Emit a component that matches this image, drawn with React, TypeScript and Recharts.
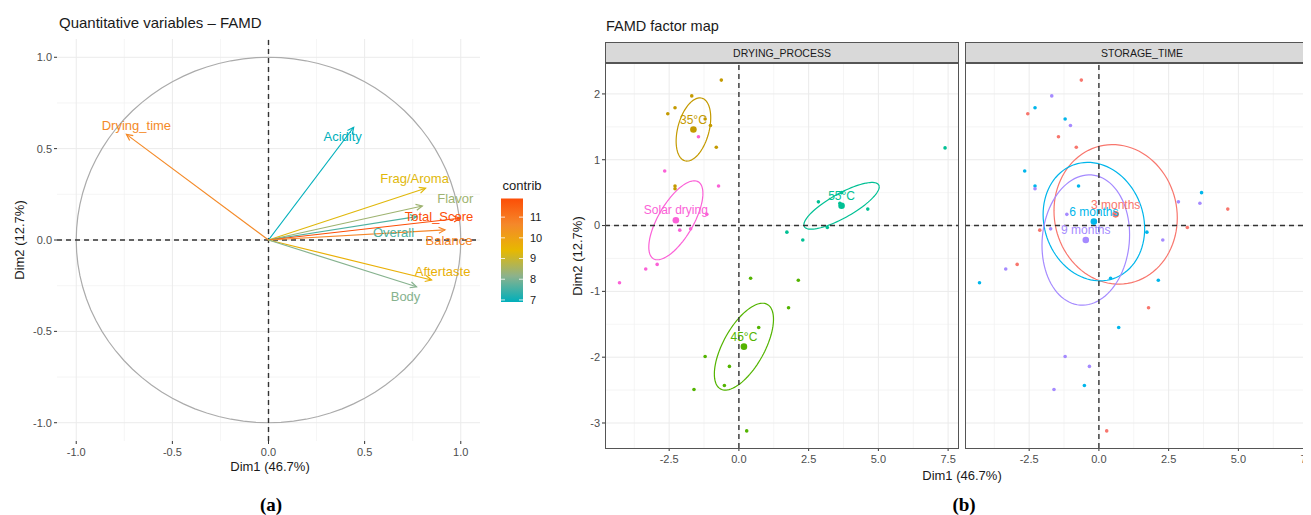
import React from 'react';
import { ScatterChart, Scatter, XAxis, YAxis, CartesianGrid, ReferenceLine, ReferenceArea } from 'recharts';

// ---- (a) quantitative variables, correlation circle ----
const varNames = ['Drying_time', 'Acidity', 'Frag/Aroma', 'Flavor', 'Overall', 'Total_Score', 'Balance', 'Aftertaste', 'Body'];
const varDim1 = [-0.739, 0.443, 0.817, 0.8, 0.77, 0.996, 0.918, 0.848, 0.77];
const varDim2 = [0.578, 0.617, 0.283, 0.186, 0.128, 0.119, 0.055, -0.219, -0.256];
const varContrib = [10.6, 6.9, 9.3, 8.4, 7.6, 11.9, 10.7, 9.6, 8.1];
const circleTicks = [-1, -0.5, 0, 0.5, 1];
const circleMinor = [-0.75, -0.25, 0.25, 0.75];
const contribTicks = [7, 8, 9, 10, 11];

// ---- (b) individuals ----
const indDim1 = [-0.63, -1.69, -2.29, -2.55, -1.21, -1.02, -1.45, -0.81, 7.39, -2.66, -2.29, -2.29, -0.73, 3.68, 2.85, 3.62, 4.62, -1.15, 3.17, -2.12, -1.73, 1.72, 2.29, -2.93, -3.34, 0.42, 2.13, -4.28, 1.78, 0.71, -1.21, -0.34, -0.52, -1.61, 0.28];
const indDim2 = [2.21, 1.97, 1.79, 1.7, 1.62, 1.52, 1.35, 1.19, 1.18, 0.83, 0.6, 0.56, 0.6, 0.5, 0.36, 0.34, 0.25, 0.17, -0.03, -0.07, -0.05, -0.1, -0.22, -0.59, -0.66, -0.8, -0.83, -0.87, -1.25, -1.55, -1.99, -2.14, -2.43, -2.49, -3.12];
const indDrying = ['35°C', '35°C', '35°C', '35°C', '35°C', '35°C', 'Solar drying', '35°C', '55°C', 'Solar drying', '35°C', '35°C', 'Solar drying', '55°C', '55°C', '55°C', '55°C', 'Solar drying', '55°C', 'Solar drying', 'Solar drying', '55°C', '55°C', 'Solar drying', 'Solar drying', '45°C', '45°C', 'Solar drying', '45°C', '45°C', '45°C', '45°C', '45°C', '45°C', '45°C'];
const indStorage = ['3 months', '9 months', '6 months', '3 months', '6 months', '9 months', '3 months', '3 months', '3 months', '6 months', '6 months', '9 months', '6 months', '6 months', '9 months', '9 months', '3 months', '9 months', '3 months', '3 months', '9 months', '6 months', '9 months', '3 months', '9 months', '6 months', '6 months', '6 months', '3 months', '6 months', '9 months', '9 months', '6 months', '9 months', '3 months'];

const dryingLevels = ['35°C', '45°C', '55°C', 'Solar drying'];
const dryingMean1 = [-1.63, 0.18, 3.68, -2.26];
const dryingMean2 = [1.46, -1.84, 0.3, 0.08];
const dryingEllW = [0.62, 1.06, 1.35, 0.97];
const dryingEllH = [0.48, 0.66, 0.355, 0.6];
const dryingEllRho = [0.37, 0.63, 0.81, 0.68];

const storageLevels = ['3 months', '6 months', '9 months'];
const storageMean1 = [0.6, -0.18, -0.47];
const storageMean2 = [0.17, 0.06, -0.22];
const storageEllW = [2.21, 1.82, 1.57];
const storageEllH = [1.06, 0.9, 0.99];
const storageEllRho = [-0.05, -0.12, 0.08];

const mapTicksX = [-2.5, 0, 2.5, 5, 7.5];
const mapMinorX = [-3.75, -1.25, 1.25, 3.75, 6.25];
const mapTicksY = [-3, -2, -1, 0, 1, 2];
const mapMinorY = [-2.5, -1.5, -0.5, 0.5, 1.5];

const FONT = '"Liberation Sans", Arial, Helvetica, sans-serif';

const groupColors: Record<string, string> = {
  '35°C': '#C49A00',
  '45°C': '#53B400',
  '55°C': '#00C094',
  'Solar drying': '#FB61D7',
  '3 months': '#F8766D',
  '6 months': '#00B6EB',
  '9 months': '#A58AFF',
};

// label position relative to the arrow tip, in px
const labelNudge: Record<string, [number, number]> = {
  Drying_time: [10, -9],
  Acidity: [-11, 9],
  'Frag/Aroma': [-11, -10],
  Flavor: [33, -8],
  Overall: [-23, 16],
  Total_Score: [-21, -2],
  Balance: [4, 10],
  Aftertaste: [11, -9],
  Body: [-11, 10],
};

// teal -> yellow -> red, with greyish mid-tones like a Lab blend
const gradStops = ['#00AFBB', '#8CB28C', '#E7B800', '#F5882A', '#FC4E07'];
const cLo = 6.9;
const cHi = 11.9;

const hex = (h: string) => [1, 3, 5].map((i) => parseInt(h.slice(i, i + 2), 16));

function contribColor(v: number) {
  const t = Math.max(0, Math.min(1, (v - cLo) / (cHi - cLo)));
  const seg = Math.min(gradStops.length - 2, Math.floor(t * (gradStops.length - 1)));
  const u = t * (gradStops.length - 1) - seg;
  const a = hex(gradStops[seg]);
  const b = hex(gradStops[seg + 1]);
  const c = a.map((ai, i) => Math.round(ai + (b[i] - ai) * u));
  return `rgb(${c[0]},${c[1]},${c[2]})`;
}

const varData = varNames.map((name, i) => ({ name, x: varDim1[i], y: varDim2[i], color: contribColor(varContrib[i]) }));

const individuals = indDim1.map((x, i) => ({ x, y: indDim2[i], drying: indDrying[i], storage: indStorage[i] }));

const tickStyle = { fill: '#4D4D4D', fontSize: 11, fontFamily: FONT };
const fmt1 = (v: number) => v.toFixed(1);

// ellipse drawn inside the bounding box that ReferenceArea gets from the scales
const ellipseShape = (color: string, rho: number) => (p: any) => {
  const { x, y, width, height } = p;
  const d = Math.acos(rho);
  const pts: string[] = [];
  for (let k = 0; k <= 96; k++) {
    const t = (k / 96) * Math.PI * 2;
    pts.push(`${x + (width / 2) * (1 + Math.cos(t))},${y + (height / 2) * (1 - Math.cos(t - d))}`);
  }
  return <polyline points={pts.join(' ')} fill="none" stroke={color} strokeWidth={1.2} />;
};

const arrowShape = (color: string) => (p: any) => {
  const { x1, y1, x2, y2 } = p;
  const ang = Math.atan2(y2 - y1, x2 - x1);
  const L = 7;
  const A = Math.PI / 7;
  const h1 = `${x2 - L * Math.cos(ang - A)},${y2 - L * Math.sin(ang - A)}`;
  const h2 = `${x2 - L * Math.cos(ang + A)},${y2 - L * Math.sin(ang + A)}`;
  return (
    <g>
      <line x1={x1} y1={y1} x2={x2} y2={y2} stroke={color} strokeWidth={1.2} />
      <polyline points={`${h1} ${x2},${y2} ${h2}`} fill="none" stroke={color} strokeWidth={1.2} />
    </g>
  );
};

const VarLabel = (p: any) => {
  const { cx, cy, payload } = p;
  const [dx, dy] = labelNudge[payload.name];
  return (
    <text x={cx + dx} y={cy + dy} dy="0.35em" textAnchor="middle" fill={payload.color} fontSize={13} fontFamily={FONT}>
      {payload.name}
    </text>
  );
};

const CircleChart = () => (
  <ScatterChart width={560} height={515} margin={{ top: 39, right: 80, bottom: 44, left: 0 }}>
    <CartesianGrid horizontalValues={circleMinor} verticalValues={circleMinor} stroke="#F0F0F0" strokeWidth={0.7} />
    <CartesianGrid horizontalValues={circleTicks} verticalValues={circleTicks} stroke="#EBEBEB" strokeWidth={1} />
    <XAxis type="number" dataKey="x" domain={[-1.1, 1.1]} ticks={circleTicks} tickFormatter={fmt1} height={30}
      axisLine={false} tickSize={3} tickMargin={4} tickLine={{ stroke: '#333' }} tick={tickStyle} allowDataOverflow />
    <YAxis type="number" dataKey="y" domain={[-1.1, 1.1]} ticks={circleTicks} tickFormatter={fmt1} width={57}
      axisLine={false} tickSize={3} tickMargin={2} tickLine={{ stroke: '#333' }} tick={tickStyle} allowDataOverflow />
    <ReferenceArea x1={-1} x2={1} y1={-1} y2={1} ifOverflow="hidden" shape={ellipseShape('#ABABAB', 0)} />
    <ReferenceLine x={0} stroke="#333" strokeDasharray="5 4" strokeWidth={1.4} />
    <ReferenceLine y={0} stroke="#333" strokeDasharray="5 4" strokeWidth={1.4} />
    {varData.map((v) => (
      <ReferenceLine key={v.name} segment={[{ x: 0, y: 0 }, { x: v.x, y: v.y }]} ifOverflow="visible" shape={arrowShape(v.color)} />
    ))}
    <Scatter data={varData} shape={VarLabel} isAnimationActive={false} />
  </ScatterChart>
);

const pointShape = (p: any) => <circle cx={p.cx} cy={p.cy} r={1.8} fill={p.fill} />;

const meanShape = (p: any) => (
  <g>
    <circle cx={p.cx} cy={p.cy} r={3.3} fill={p.fill} />
    <text x={p.cx} y={p.cy - 10} dy="0.35em" textAnchor="middle" fill={p.fill} fontSize={12} fontFamily={FONT}>
      {p.payload.name}
    </text>
  </g>
);

interface PanelProps {
  width: number;
  showY: boolean;
  groupKey: 'drying' | 'storage';
  levels: string[];
  mean1: number[];
  mean2: number[];
  ellW: number[];
  ellH: number[];
  ellRho: number[];
}

const FacetPanel = ({ width, showY, groupKey, levels, mean1, mean2, ellW, ellH, ellRho }: PanelProps) => (
  <ScatterChart width={width} height={515} margin={{ top: 63, right: showY ? 1 : 0, bottom: 42, left: 0 }}>
    <CartesianGrid horizontalValues={mapMinorY} verticalValues={mapMinorX} stroke="#F0F0F0" strokeWidth={0.7} />
    <CartesianGrid horizontalValues={mapTicksY} verticalValues={mapTicksX} stroke="#EBEBEB" strokeWidth={1} />
    <XAxis type="number" dataKey="x" domain={[-4.8, 7.89]} ticks={mapTicksX} tickFormatter={fmt1} height={25}
      axisLine={false} tickSize={3} tickMargin={4} tickLine={{ stroke: '#333' }} tick={tickStyle} allowDataOverflow />
    <YAxis type="number" dataKey="y" domain={[-3.38, 2.47]} ticks={mapTicksY} width={showY ? 45 : 0} hide={!showY}
      axisLine={false} tickSize={3} tickMargin={2} tickLine={{ stroke: '#333' }} tick={tickStyle} allowDataOverflow />
    <ReferenceLine x={0} stroke="#333" strokeDasharray="5 4" strokeWidth={1.4} />
    <ReferenceLine y={0} stroke="#333" strokeDasharray="5 4" strokeWidth={1.4} />
    {levels.map((lv, i) => (
      <ReferenceArea key={lv} x1={mean1[i] - ellW[i]} x2={mean1[i] + ellW[i]} y1={mean2[i] - ellH[i]} y2={mean2[i] + ellH[i]}
        ifOverflow="hidden" shape={ellipseShape(groupColors[lv], ellRho[i])} />
    ))}
    {levels.map((lv) => (
      <Scatter key={lv} data={individuals.filter((d) => d[groupKey] === lv)} fill={groupColors[lv]} shape={pointShape} isAnimationActive={false} />
    ))}
    {levels.map((lv, i) => (
      <Scatter key={'m' + lv} data={[{ name: lv, x: mean1[i], y: mean2[i] }]} fill={groupColors[lv]} shape={meanShape} isAnimationActive={false} />
    ))}
  </ScatterChart>
);

const stripStyle = (left: number): React.CSSProperties => ({
  position: 'absolute', left, top: 42, width: 354, height: 21, boxSizing: 'border-box',
  background: '#D9D9D9', border: '1px solid #555', fontFamily: FONT, fontSize: 10.5, color: '#1A1A1A',
  display: 'flex', alignItems: 'center', justifyContent: 'center',
});
const borderStyle = (left: number): React.CSSProperties => ({
  position: 'absolute', left, top: 63, width: 354, height: 386, boxSizing: 'border-box',
  border: '1px solid #555', pointerEvents: 'none',
});

const cbY = (v: number) => 302 - (v - cLo) * 20.7;

export default function App() {
  return (
    <div style={{ position: 'relative', width: 1311, height: 515, margin: '-8px 0 0 -8px', overflow: 'hidden', background: '#fff' }}>
      <div style={{ position: 'absolute', left: 0, top: 0 }}>
        <CircleChart />
      </div>
      <div style={{ position: 'absolute', left: 560, top: 0 }}>
        <FacetPanel width={400} showY groupKey="drying" levels={dryingLevels} mean1={dryingMean1} mean2={dryingMean2}
          ellW={dryingEllW} ellH={dryingEllH} ellRho={dryingEllRho} />
      </div>
      <div style={{ position: 'absolute', left: 965, top: 0 }}>
        <FacetPanel width={354} showY={false} groupKey="storage" levels={storageLevels} mean1={storageMean1} mean2={storageMean2}
          ellW={storageEllW} ellH={storageEllH} ellRho={storageEllRho} />
      </div>
      <div style={stripStyle(605)}>DRYING_PROCESS</div>
      <div style={stripStyle(965)}>STORAGE_TIME</div>
      <div style={borderStyle(605)} />
      <div style={borderStyle(965)} />
      <svg width={1311} height={515} style={{ position: 'absolute', left: 0, top: 0, pointerEvents: 'none' }}>
        <defs>
          <linearGradient id="cbGrad" x1="0" y1="1" x2="0" y2="0">
            {gradStops.map((c, i) => (
              <stop key={c} offset={`${(i / (gradStops.length - 1)) * 100}%`} stopColor={c} />
            ))}
          </linearGradient>
        </defs>
        <g fontFamily={FONT}>
          <text x={59} y={28} fontSize={15} fill="#1A1A1A">Quantitative variables – FAMD</text>
          <text x={606} y={31} fontSize={14.5} fill="#1A1A1A">FAMD factor map</text>
          <text x={270} y={471} fontSize={13} fill="#1A1A1A" textAnchor="middle">Dim1 (46.7%)</text>
          <text x={962} y={480} fontSize={13} fill="#1A1A1A" textAnchor="middle">Dim1 (46.7%)</text>
          <text transform="translate(24,240) rotate(-90)" fontSize={13} fill="#1A1A1A" textAnchor="middle">Dim2 (12.7%)</text>
          <text transform="translate(582,256) rotate(-90)" fontSize={13} fill="#1A1A1A" textAnchor="middle">Dim2 (12.7%)</text>
          <text x={522} y={190} fontSize={13} fill="#1A1A1A" textAnchor="middle">contrib</text>
          <rect x={501} y={cbY(cHi)} width={22} height={cbY(cLo) - cbY(cHi)} fill="url(#cbGrad)" />
          {contribTicks.map((t) => (
            <g key={t}>
              <line x1={501} x2={505} y1={cbY(t)} y2={cbY(t)} stroke="#fff" strokeWidth={0.8} />
              <line x1={519} x2={523} y1={cbY(t)} y2={cbY(t)} stroke="#fff" strokeWidth={0.8} />
              <text x={530} y={cbY(t)} dy="0.35em" fontSize={11} fill="#1A1A1A">{t}</text>
            </g>
          ))}
        </g>
        <text x={271} y={511} fontSize={19} fontWeight="bold" fontFamily="'Liberation Serif', 'Times New Roman', serif" textAnchor="middle">(a)</text>
        <text x={964} y={511} fontSize={19} fontWeight="bold" fontFamily="'Liberation Serif', 'Times New Roman', serif" textAnchor="middle">(b)</text>
      </svg>
    </div>
  );
}
